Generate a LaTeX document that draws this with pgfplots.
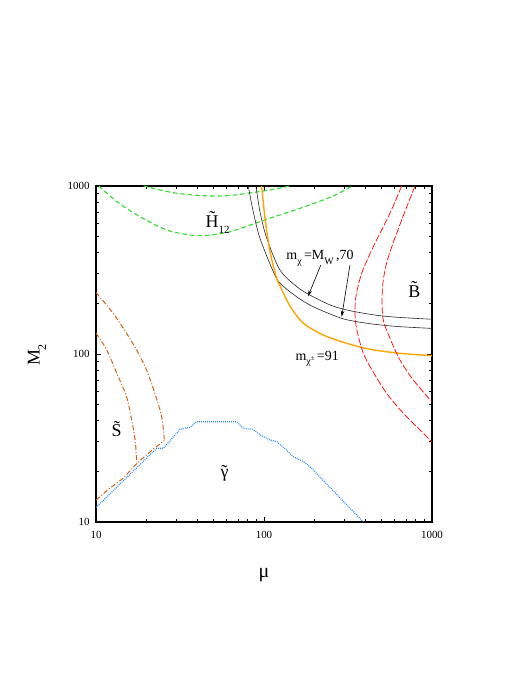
\documentclass[border=0pt]{standalone}
\usepackage{fontspec}
\setmainfont{Liberation Serif}
\usepackage{pgfplots}
\pgfplotsset{compat=1.18}
\usetikzlibrary{arrows.meta}
\definecolor{hgreen}{RGB}{40,220,40}
\definecolor{chorange}{RGB}{255,165,0}
\definecolor{ddbrown}{RGB}{205,100,30}
\definecolor{bblue}{RGB}{40,140,255}
\newcommand\lo[2]{\raisebox{-0.35em}{\fontsize{#1}{#1}\selectfont #2}}
\begin{document}
\begin{tikzpicture}
\path (0,0) rectangle (520bp,692bp);
\begin{axis}[at={(96bp,170bp)}, anchor=south west, scale only axis,
  width=336bp, height=336bp,
  xmode=log, ymode=log, xmin=10, xmax=1000, ymin=10, ymax=1000,
  xtick={10,100,1000}, xticklabels={10,100,1000},
  ytick={10,100,1000}, yticklabels={10,100,1000},
  minor xtick={20,30,40,50,60,70,80,90,200,300,400,500,600,700,800,900},
  minor ytick={20,30,40,50,60,70,80,90,200,300,400,500,600,700,800,900},
  tick align=inside, major tick length=5bp, minor tick length=3bp,
  axis line style={line width=1.6bp}, tick style={line width=0.7bp, black},
  tick label style={font=\fontsize{11}{11}\selectfont},
  xticklabel style={yshift=-6bp}, yticklabel style={xshift=-3bp},
  every axis plot/.append style={no marks}]
% higgsino region (green dashed)
\addplot[hgreen, line width=1.1bp, dash pattern=on 4.5bp off 3bp, smooth] coordinates {
 (19.2,1000)(28.8,912)(41.6,878)(52,872)(65.4,882)(103.8,940)(143,1000)};
\addplot[hgreen, line width=1.1bp, dash pattern=on 4.5bp off 3bp, smooth] coordinates {
 (10.4,1000)(13.3,807)(18.3,656)(26.4,547)(36.3,511)(44,507)(52,516)(65.3,540)(103.8,634)(163.7,736)(257.6,871)(334,1000)};
% m_chi = M_W, 70 (black)
\addplot[black!85, line width=0.6bp, smooth] coordinates {
 (89.6,1000)(94.6,703)(103.8,489)(124.5,316)(156.5,252)(188,224)(247,196)(310,183)(390,175)(490,169)(645,165)(1000,161)};
\addplot[black!85, line width=0.6bp, smooth] coordinates {
 (80.6,1000)(86.3,703)(94.6,489)(113.6,309)(124.5,264)(156.5,219)(196.6,191)(290,163)(390,153.5)(490,149)(645,145.4)(1000,142)};
% m_chi+- = 91 (orange)
\addplot[chorange, line width=1.4bp, smooth] coordinates {
 (96.8,1000)(101.4,643)(108.6,406)(119,282)(124.5,255)(142.9,193)(171.4,152.5)(225.5,129.7)(310.5,115.8)(427.7,106.7)(645,100.9)(1000,97.8)};
% bino region (red dashed)
\addplot[red, line width=0.7bp, dash pattern=on 7bp off 2bp, smooth] coordinates {
 (660,1000)(562,688)(447,435)(381.5,302)(353,222)(348,176)(356,141)(390,101)(447,78)(537,58.3)(675,44.4)(849,35.3)(1000,29.9)};
\addplot[red, line width=0.7bp, dash pattern=on 7bp off 2bp, smooth] coordinates {
 (792,1000)(660,628)(550,379)(513,276)(504,209)(513,159)(562,124)(645,92)(774,70)(1000,51.8)};
% singlino region (dash-dot)
\addplot[ddbrown, line width=1bp, dash pattern=on 5bp off 2bp on 1bp off 2bp, smooth] coordinates {
 (10,232)(12.1,185)(14.5,143)(17.5,105)(20,80.4)(22.4,58.3)(24.6,42.4)(25.5,31)};
\addplot[ddbrown, line width=1bp, dash pattern=on 5bp off 2bp on 1bp off 2bp, smooth] coordinates {
 (10,133)(11.6,105.6)(13.3,76.7)(15.2,55.7)(16.3,40.5)(17.1,30.8)(17.5,22.6)};
\addplot[ddbrown, line width=1bp, dash pattern=on 5bp off 2bp on 1bp off 2bp] coordinates {
 (10,13.5)(12.1,15.9)(14.5,18.2)(17.5,22.3)(21,26.2)(25.5,30.6)};
% photino region (blue dotted)
\addplot[bblue, line width=1.2bp, dash pattern=on 0.9bp off 1.1bp] coordinates {
 (10,12.2)(23.0,27.5)(25.2,27.5)(31.6,35.6)(36.3,36.6)(39.7,39.5)(68.8,39.5)(75.3,36.1)(86.3,35.6)(94.6,33.0)(108.6,30.8)(119,30.1)(135,27)(149,24.5)(171.4,22.9)(188,21.3)(390,10)};
% labels
\node[anchor=base west, font=\fontsize{18}{18}\selectfont] at (axis cs:42.8,570) {H̃\lo{11}{12}};
\node[anchor=base west, font=\fontsize{18}{18}\selectfont] at (axis cs:690,218) {B̃};
\node[anchor=base west, font=\fontsize{18}{18}\selectfont] at (axis cs:11.8,32.1) {S̃};
\node[anchor=base west, font=\fontsize{18}{18}\selectfont] at (axis cs:52.5,18.5) {\ooalign{γ\cr\hidewidth˜\hidewidth\cr}};
\node[anchor=base west, font=\fontsize{14}{14}\selectfont] at (axis cs:129.7,363) {m\lo{10}{χ}\,=M\lo{10}{W}\,,70};
\node[anchor=base west, font=\fontsize{14}{14}\selectfont] at (axis cs:146.8,92.1) {m\lo{10}{χ\raisebox{0.45em}{\fontsize{7}{7}\selectfont ±}}\,=91};
\draw[line width=0.6bp, -{Stealth[length=6bp,width=3.5bp]}] (axis cs:218,339) -- (axis cs:183,221);
\draw[line width=0.6bp, -{Stealth[length=6bp,width=3.5bp]}] (axis cs:325,339) -- (axis cs:290,166.7);
\end{axis}
\node[font=\fontsize{20}{20}\selectfont] at (264bp,117bp) {μ};
\node[rotate=90, font=\fontsize{18}{18}\selectfont] at (37bp,337bp) {M\lo{12}{2}};
\end{tikzpicture}
\end{document}
